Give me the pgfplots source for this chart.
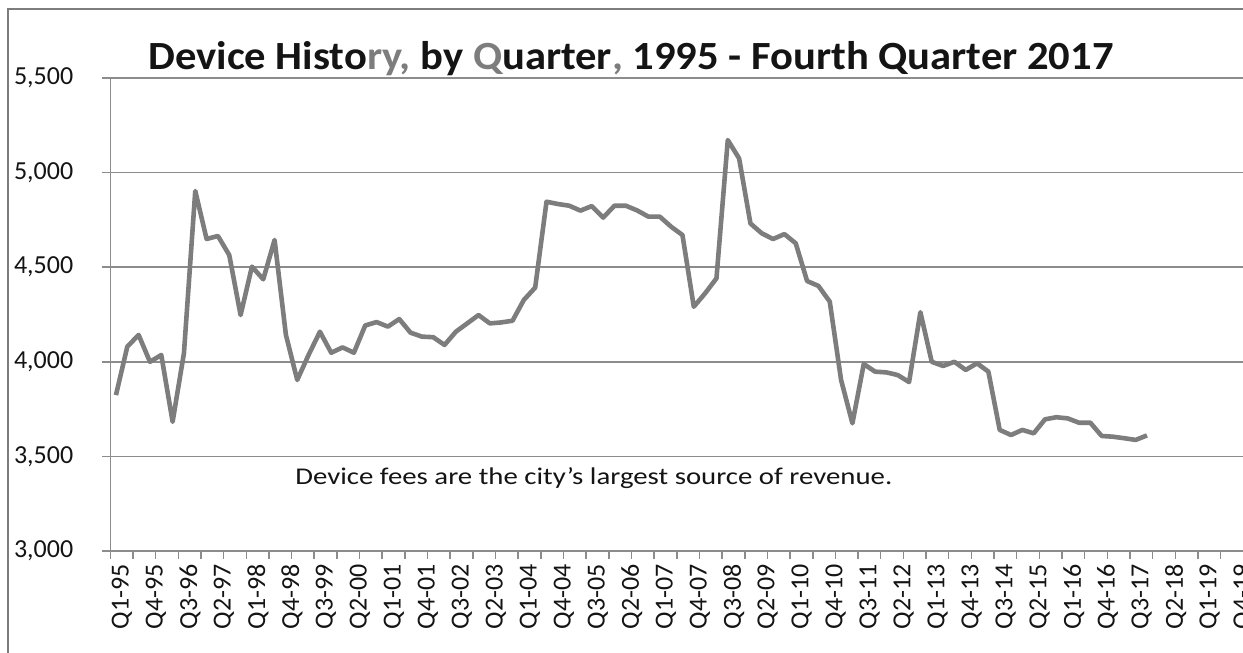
\documentclass[border=0pt]{standalone}
\usepackage{fontspec}
\setmainfont{Carlito}
\usepackage{graphicx}
\usepackage{pgfplots}
\pgfplotsset{compat=1.18}
\definecolor{linegray}{RGB}{125,125,125}
\definecolor{gridgray}{RGB}{140,140,140}
\definecolor{titlegray}{RGB}{125,125,125}
\definecolor{txt}{RGB}{20,20,20}
\begin{document}
\begin{tikzpicture}
\useasboundingbox (0,0) rectangle (621.5pt,326.5pt);
\draw[linegray, line width=0.9pt] (4pt,-2pt) -- (4pt,322pt) -- (625pt,322pt);
\begin{axis}[
  at={(55.15pt,51pt)}, anchor=south west,
  scale only axis, width=566.5pt, height=236.5pt,
  xmin=-0.5, xmax=99.5, ymin=3000, ymax=5500,
  axis x line*=bottom, axis y line*=left,
  axis line style={gridgray, line width=0.75pt, -},
  ytick={3000,3500,...,5500},
  ymajorgrids, grid style={gridgray, line width=0.75pt},
  tick align=outside,
  major tick length=4pt, minor tick length=4pt,
  tick style={gridgray, line width=0.75pt},
  major x tick style={draw=none},
  xtick={0,3,...,99},
  minor xtick={-0.5,1.5,...,99.5},
  xticklabels={Q1-95,Q4-95,Q3-96,Q2-97,Q1-98,Q4-98,Q3-99,Q2-00,Q1-01,Q4-01,Q3-02,Q2-03,Q1-04,Q4-04,Q3-05,Q2-06,Q1-07,Q4-07,Q3-08,Q2-09,Q1-10,Q4-10,Q3-11,Q2-12,Q1-13,Q4-13,Q3-14,Q2-15,Q1-16,Q4-16,Q3-17,Q2-18,Q1-19,Q4-19},
  xticklabel style={rotate=90, anchor=east, font=\fontsize{13}{15}\selectfont, text=txt, yshift=-3pt, xshift=0.8pt},
  yticklabel style={font=\fontsize{13}{15}\selectfont, text=txt, xshift=-11pt},
  /pgf/number format/assume math mode=true,
  /pgf/number format/1000 sep={,},
  clip=false,
]
\addplot[linegray, line width=2.3pt, line join=round] table[x=i, y=v] {
i v
0 3824
1 4080
2 4142
3 4000
4 4036
5 3683
6 4046
7 4903
8 4649
9 4665
10 4564
11 4247
12 4503
13 4436
14 4644
15 4142
16 3904
17 4036
18 4159
19 4048
20 4076
21 4048
22 4192
23 4210
24 4186
25 4226
26 4154
27 4133
28 4130
29 4089
30 4159
31 4203
32 4247
33 4203
34 4208
35 4217
36 4327
37 4392
38 4846
39 4834
40 4825
41 4799
42 4823
43 4762
44 4825
45 4825
46 4800
47 4767
48 4767
49 4714
50 4670
51 4291
52 4362
53 4441
54 5172
55 5075
56 4731
57 4679
58 4649
59 4675
60 4626
61 4427
62 4401
63 4318
64 3904
65 3675
66 3988
67 3948
68 3944
69 3930
70 3893
71 4262
72 4000
73 3978
74 4000
75 3957
76 3992
77 3948
78 3640
79 3613
80 3640
81 3622
82 3696
83 3707
84 3701
85 3678
86 3678
87 3608
88 3604
89 3596
90 3587
91 3611
};
\end{axis}
\node[anchor=base, font=\fontsize{20}{24}\selectfont\bfseries, text=txt, inner sep=0pt] at (315.5pt,291.5pt)
  {\scalebox{1.065}[1]{Device Histo\textcolor{titlegray}{ry,} by \textcolor{titlegray}{Q}uarter\textcolor{titlegray}{,} 1995 - Fourth Quarter 2017}};
\node[anchor=base west, font=\fontsize{12}{14}\selectfont, text=txt, inner sep=0pt] at (147.5pt,84pt)
  {\scalebox{1.2}[1]{Device fees are the city's largest source of revenue.}};
\end{tikzpicture}
\end{document}
